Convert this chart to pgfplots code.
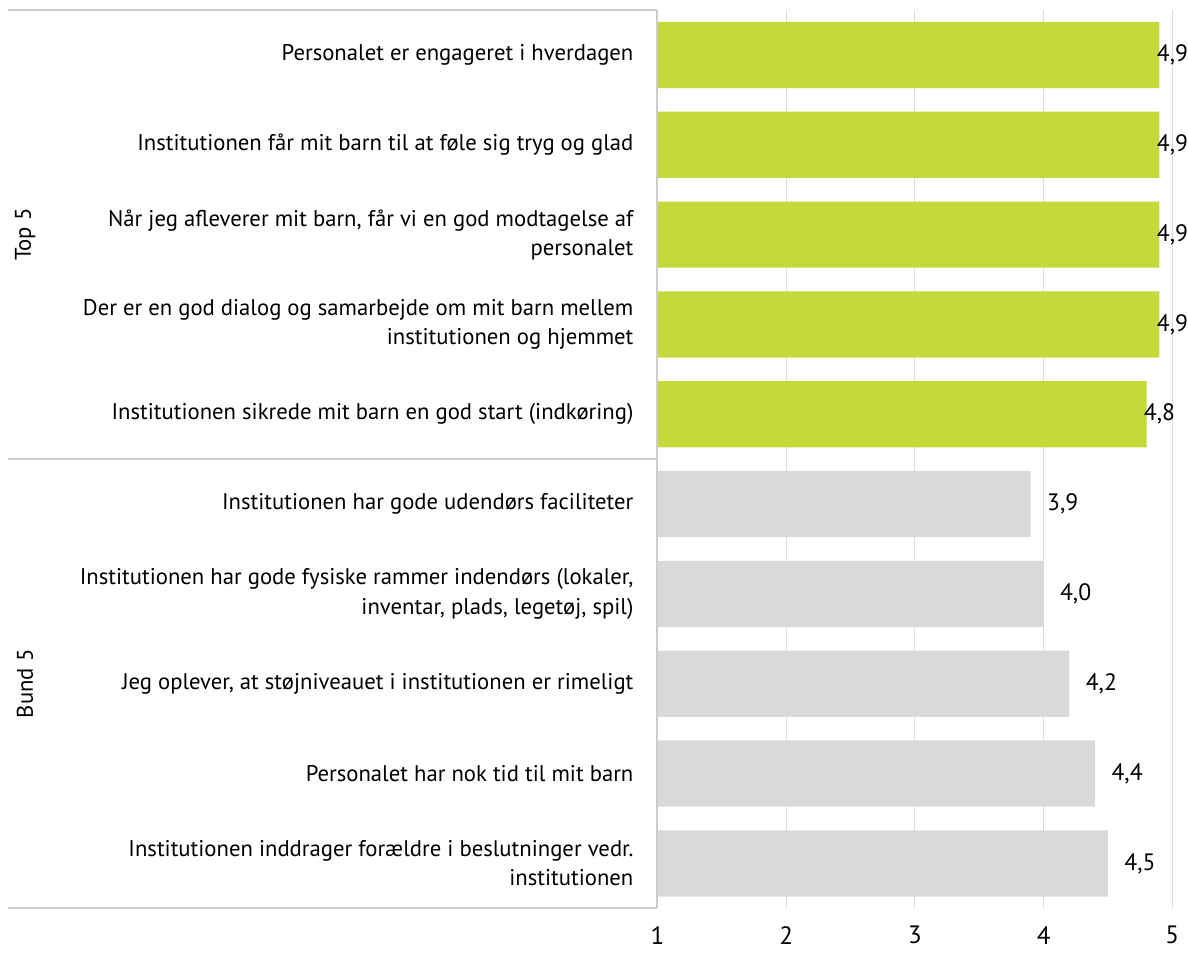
\documentclass[border=0pt]{standalone}
\usepackage{fontspec}
\setmainfont{PT Sans}
\usepackage{pgfplots}
\pgfplotsset{compat=1.18}

\definecolor{topgreen}{HTML}{C4D93A}
\definecolor{bundgray}{HTML}{D9D9D9}
\definecolor{framegray}{HTML}{CDCDC5}
\definecolor{gridgray}{HTML}{DCDCDC}

\begin{document}
\fontsize{11.3}{14.5}\selectfont
\begin{tikzpicture}
\begin{axis}[
    xbar, bar width=33pt, bar shift=0pt,
    scale only axis, width=256.5pt, height=447.5pt,
    xmin=1, xmax=5, ymin=-0.5, ymax=9.5, y dir=reverse,
    xtick={1,2,3,4,5}, ytick={0,...,9},
    yticklabels={
        Personalet er engageret i hverdagen,
        Institutionen får mit barn til at føle sig tryg og glad,
        {Når jeg afleverer mit barn, får vi en god modtagelse af\\personalet},
        {Der er en god dialog og samarbejde om mit barn mellem\\institutionen og hjemmet},
        Institutionen sikrede mit barn en god start (indkøring),
        Institutionen har gode udendørs faciliteter,
        {Institutionen har gode fysiske rammer indendørs (lokaler,\\inventar, plads, legetøj, spil)},
        {Jeg oplever, at støjniveauet i institutionen er rimeligt},
        Personalet har nok tid til mit barn,
        {Institutionen inddrager forældre i beslutninger vedr.\\institutionen}
    },
    yticklabel style={align=right, xshift=-8pt, font=\fontsize{11.3}{14.5}\selectfont},
    xticklabel style={yshift=-5pt, font=\fontsize{12.5}{14}\selectfont},
    /pgf/number format/assume math mode=true,
    major tick length=0pt,
    axis line style={draw=none},
    xmajorgrids, grid style={gridgray, line width=0.6pt},
    nodes near coords={\pgfmathprintnumber[use comma,fixed,fixed zerofill,precision=1]{\pgfplotspointmeta}},
]
\addplot[fill=topgreen, draw=none,
    nodes near coords style={anchor=west, inner sep=0pt, xshift=-1.5pt, font=\fontsize{11.8}{13}\selectfont}]
    coordinates {(4.9,0) (4.9,1) (4.9,2) (4.9,3) (4.8,4)};
\addplot[fill=bundgray, draw=none,
    nodes near coords style={anchor=west, inner sep=0pt, xshift=8pt, font=\fontsize{11.8}{13}\selectfont}]
    coordinates {(3.9,5) (4.0,6) (4.2,7) (4.4,8) (4.5,9)};
\coordinate (tl) at (axis cs:1,-0.5);
\coordinate (mid) at (axis cs:1,4.5);
\coordinate (bl) at (axis cs:1,9.5);
\coordinate (g1) at (axis cs:1,2);
\coordinate (g2) at (axis cs:1,7);
\end{axis}
% margins round the picture, as in the reference
\path (tl) ++(-327.5pt,5pt);
\path (bl) ++(0,-23pt);
\draw[framegray, line width=1pt] (tl) -- (bl);
\draw[framegray, line width=1pt] (tl) -- ++(-323.5pt,0);
\draw[framegray, line width=1pt] (mid) -- ++(-323.5pt,0);
\draw[framegray, line width=1pt] (bl) -- ++(-323.5pt,0);
\node[rotate=90, font=\fontsize{11.3}{13}\selectfont] at ([xshift=-315pt]g1) {Top 5};
\node[rotate=90, font=\fontsize{11.3}{13}\selectfont] at ([xshift=-315pt]g2) {Bund 5};
\end{tikzpicture}
\end{document}
